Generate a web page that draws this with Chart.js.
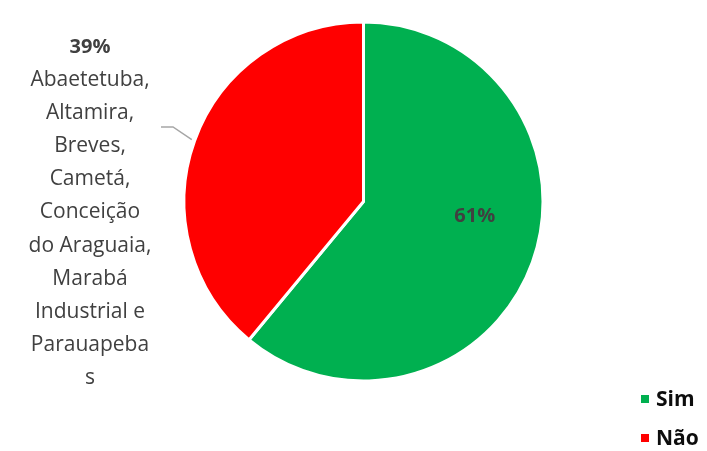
<!DOCTYPE html>
<html>
<head>
<meta charset="utf-8">
<script src="https://cdn.jsdelivr.net/npm/chart.js@4"></script>
<style>
  html, body { margin: 0; padding: 0; background: #fff; }
  #wrap { width: 707px; height: 451px; }
</style>
</head>
<body>
<div id="wrap"><canvas id="myChart" width="707" height="451"></canvas></div>
<script>
// data
const categories = ['Sim', 'Não'];
const values = [61, 39];
const sliceColors = ['#00B050', '#FF0000'];
const valueLabels = ['61%', '39%'];
const naoCities = ['Abaetetuba,', 'Altamira,', 'Breves,', 'Cametá,', 'Conceição', 'do Araguaia,', 'Marabá', 'Industrial e', 'Parauapeba', 's'];

const textColor = '#404040';
const fontName = '"Open Sans", "Liberation Sans", sans-serif';

// labels + legend drawn on top of the pie
const labelPlugin = {
  id: 'pieLabels',
  afterDraw(chart) {
    const ctx = chart.ctx;
    const arcs = chart.getDatasetMeta(0).data;
    ctx.save();
    ctx.textAlign = 'center';
    ctx.textBaseline = 'middle';

    // Sim: inside the slice
    const a0 = arcs[0];
    ctx.fillStyle = textColor;
    ctx.font = 'bold 20px ' + fontName;
    ctx.fillText(valueLabels[0], a0.x + a0.outerRadius * 0.62, a0.y + a0.outerRadius * 0.085);

    // Não: outside with leader line
    const a1 = arcs[1];
    const mid1 = (a1.startAngle + a1.endAngle) / 2;
    const ex = a1.x + Math.cos(mid1) * (a1.outerRadius + 3);
    const ey = a1.y + Math.sin(mid1) * (a1.outerRadius + 3);
    ctx.strokeStyle = '#A6A6A6';
    ctx.lineWidth = 1.5;
    ctx.beginPath();
    ctx.moveTo(161, 127);
    ctx.lineTo(173, 127);
    ctx.lineTo(ex, ey);
    ctx.stroke();

    const cx = 90;
    let y = 47;
    const lh = 33.1;
    ctx.fillStyle = textColor;
    ctx.font = 'bold 20px ' + fontName;
    ctx.fillText(valueLabels[1], cx, y);
    ctx.font = '21px ' + fontName;
    naoCities.forEach((t, i) => {
      ctx.fillText(t, cx, y + lh * (i + 1));
    });

    // legend
    ctx.textAlign = 'left';
    ctx.font = 'bold 21px ' + fontName;
    categories.forEach((c, i) => {
      const ly = 399 + i * 39;
      ctx.fillStyle = sliceColors[i];
      ctx.fillRect(641, ly - 4, 8, 8);
      ctx.fillStyle = '#0D0D0D';
      ctx.fillText(c, 656, ly + 1);
    });
    ctx.restore();
  }
};

const chart = new Chart(document.getElementById('myChart').getContext('2d'), {
  type: 'pie',
  data: {
    labels: categories,
    datasets: [{
      data: values,
      backgroundColor: sliceColors,
      borderColor: '#FFFFFF',
      borderWidth: 3
    }]
  },
  options: {
    responsive: false,
    animation: false,
    layout: { padding: { left: 182.5, right: 162.5, top: 20.5, bottom: 68.5 } },
    plugins: {
      legend: { display: false },
      tooltip: { enabled: false }
    }
  },
  plugins: [labelPlugin]
});
</script>
</body>
</html>
